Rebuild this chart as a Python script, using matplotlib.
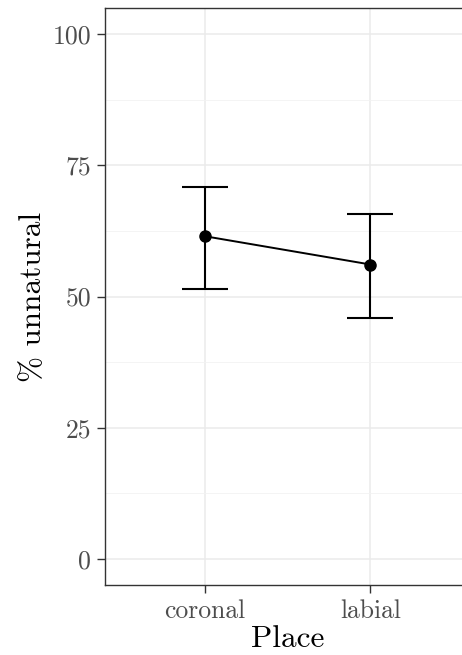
import numpy as np
import matplotlib
matplotlib.use("Agg")
import matplotlib.pyplot as plt
from matplotlib.ticker import MultipleLocator

# Data
places = ["coronal", "labial"]
mean_pct = [61.5, 56.1]
ci_low = [51.4, 45.9]
ci_high = [70.8, 65.8]

plt.rcParams["font.family"] = ["cmr10", "DejaVu Serif"]
plt.rcParams["mathtext.fontset"] = "cm"

fig = plt.figure(figsize=(4.62, 6.55), dpi=100)
# panel runs past the right edge, like the cropped original
ax = fig.add_axes([105 / 462, 1 - 585 / 655, 365 / 462, 577 / 655])

x = np.arange(1, len(places) + 1)
mean_arr = np.array(mean_pct)
yerr = [mean_arr - np.array(ci_low), np.array(ci_high) - mean_arr]

ax.plot(x, mean_pct, color="black", linewidth=1.4, zorder=3)
ax.errorbar(x, mean_pct, yerr=yerr, fmt="none", ecolor="black",
            elinewidth=1.5, capsize=16.5, capthick=1.5, zorder=3)
ax.plot(x, mean_pct, "o", color="black", markersize=8, zorder=4)

ax.set_xlim(0.4, 2.6)
ax.set_ylim(-5, 105)
ax.set_xticks(x)
ax.set_xticklabels(places)
ax.yaxis.set_major_locator(MultipleLocator(25))
ax.yaxis.set_minor_locator(MultipleLocator(12.5))

ax.grid(which="major", color="#EBEBEB", linewidth=1.1)
ax.grid(which="minor", axis="y", color="#F2F2F2", linewidth=0.6)
ax.set_axisbelow(True)

for side in ax.spines.values():
    side.set_color("#333333")
    side.set_linewidth(1.0)

ax.tick_params(axis="both", which="major", colors="#333333", length=6,
               width=1.0, labelsize=18.5, labelcolor="#4D4D4D", pad=4)
ax.tick_params(axis="y", which="minor", length=0)

ax.set_xlabel("Place", fontsize=22.5, labelpad=2)
ax.set_ylabel("% unnatural", fontsize=22.5, labelpad=4)

fig.savefig("out.png", dpi=100)
